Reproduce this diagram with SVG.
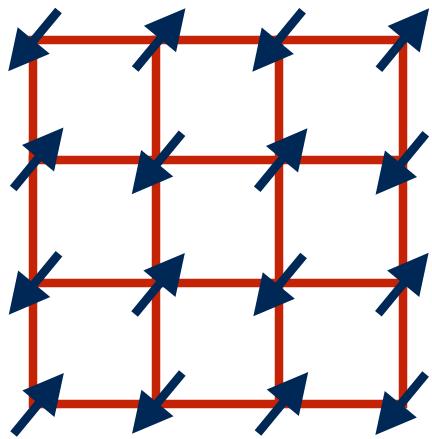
<svg xmlns="http://www.w3.org/2000/svg" width="432" height="439" viewBox="0 0 432 439">
  <style>
    .grid { stroke: #C52306; stroke-width: 8.5; fill: none; stroke-linecap: square; }
    .spin { fill: #002856; }
  </style>
  <defs>
    <g id="arrow">
      <rect x="-39" y="-4.3" width="44" height="8.6"/>
      <polygon points="0,-20.8 40,0 0,20.8"/>
    </g>
  </defs>
  <rect width="432" height="439" fill="#ffffff"/>
  <g id="connectors" class="grid">
    <rect x="33" y="40" width="370" height="364"/>
    <line x1="156" y1="40" x2="156" y2="404"/>
    <line x1="279" y1="40" x2="279" y2="404"/>
    <line x1="33" y1="160" x2="403" y2="160"/>
    <line x1="33" y1="283" x2="403" y2="283"/>
  </g>
  <g id="spin-r0c0" class="spin"><use href="#arrow" transform="translate(33.7,40.5) rotate(129.5)"/></g>
  <g id="spin-r0c1" class="spin"><use href="#arrow" transform="translate(160,39) rotate(-50.5)"/></g>
  <g id="spin-r0c2" class="spin"><use href="#arrow" transform="translate(277.8,40.8) rotate(129.5)"/></g>
  <g id="spin-r0c3" class="spin"><use href="#arrow" transform="translate(403.7,39.2) rotate(-50.5)"/></g>
  <g id="spin-r1c0" class="spin"><use href="#arrow" transform="translate(38,158.3) rotate(-50.5)"/></g>
  <g id="spin-r1c1" class="spin"><use href="#arrow" transform="translate(157.2,163.3) rotate(129.5)"/></g>
  <g id="spin-r1c2" class="spin"><use href="#arrow" transform="translate(282,159.2) rotate(-50.5)"/></g>
  <g id="spin-r1c3" class="spin"><use href="#arrow" transform="translate(401,163.8) rotate(129.5)"/></g>
  <g id="spin-r2c0" class="spin"><use href="#arrow" transform="translate(34.2,283.8) rotate(129.5)"/></g>
  <g id="spin-r2c1" class="spin"><use href="#arrow" transform="translate(159.4,283.8) rotate(-50.5)"/></g>
  <g id="spin-r2c2" class="spin"><use href="#arrow" transform="translate(278.8,285.5) rotate(129.5)"/></g>
  <g id="spin-r2c3" class="spin"><use href="#arrow" transform="translate(403.2,283.7) rotate(-50.5)"/></g>
  <g id="spin-r3c0" class="spin"><use href="#arrow" transform="translate(38.4,403.8) rotate(-50.5)"/></g>
  <g id="spin-r3c1" class="spin"><use href="#arrow" transform="translate(157.5,403) rotate(129.5)"/></g>
  <g id="spin-r3c2" class="spin"><use href="#arrow" transform="translate(282.8,402.8) rotate(-50.5)"/></g>
  <g id="spin-r3c3" class="spin"><use href="#arrow" transform="translate(400.8,404.2) rotate(129.5)"/></g>
</svg>
